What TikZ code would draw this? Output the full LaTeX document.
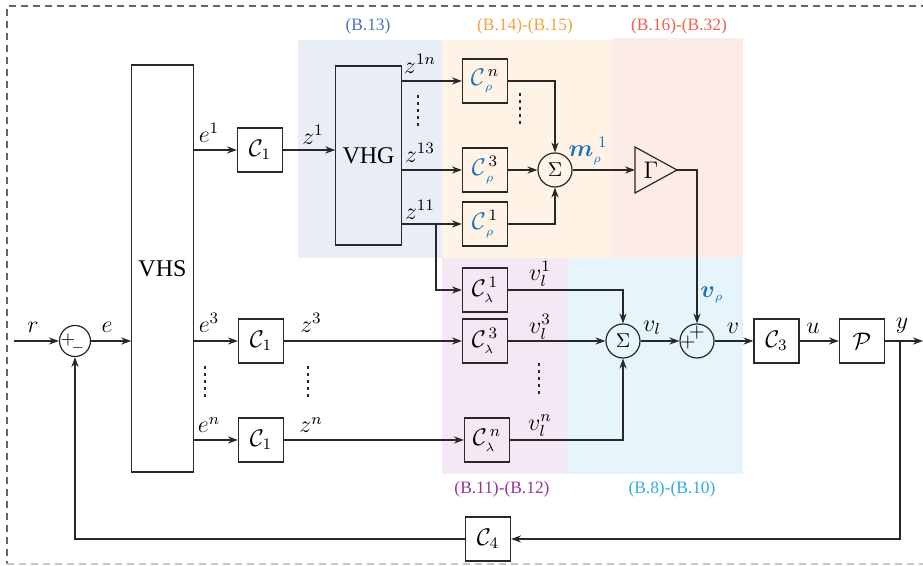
\documentclass[tikz,border=0pt]{standalone}
\usepackage{amsmath,amssymb}
\usepackage{fontspec}
\setmainfont{Liberation Serif}
\usepackage{tikz}
\usetikzlibrary{arrows.meta,calc,positioning}
\definecolor{lncol}{RGB}{40,40,40}
\definecolor{bgvhg}{RGB}{233,237,246}
\definecolor{bgcrho}{RGB}{255,243,229}
\definecolor{bggam}{RGB}{252,235,230}
\definecolor{bgclam}{RGB}{244,232,244}
\definecolor{bgsum}{RGB}{230,244,251}
\definecolor{txvhg}{RGB}{80,110,190}
\definecolor{txcrho}{RGB}{245,160,60}
\definecolor{txgam}{RGB}{240,95,70}
\definecolor{txclam}{RGB}{150,50,150}
\definecolor{txsum}{RGB}{50,170,225}
\definecolor{mblue}{RGB}{25,115,190}
\newcommand{\Crho}[1]{$\textcolor{mblue}{\mathcal{C}}^{\,#1}_{\textcolor{mblue}{\scriptscriptstyle\rho}}$}
\newcommand{\Clam}[1]{$\mathcal{C}^{\,#1}_{\scriptscriptstyle\lambda}$}

\begin{document}
\begin{tikzpicture}[>={Stealth[length=5pt,width=3.6pt]}, x=0.5pt, y=-0.5pt,
  line width=0.6pt, draw=lncol,
  blk/.style={draw=lncol, minimum width=22.5pt, minimum height=22pt, inner sep=0pt, font=\large},
  sumc/.style={draw=lncol, circle, minimum size=17pt, inner sep=0pt},
  lab/.style={font=\large, inner sep=1pt},
  eqlab/.style={font=\fontsize{8.7}{10}\selectfont},
  dotcol/.style={line width=1.3pt, dash pattern=on 1.3pt off 2.2pt}]
  \useasboundingbox (0,0) rectangle (923,566);
  \draw[gray!80!black, dash pattern=on 3.5pt off 2.5pt] (940,6) -- (7,6) -- (7,564);
  \draw[gray!45, dash pattern=on 3.5pt off 2.5pt] (7,564) -- (940,564);

  \fill[bgvhg] (298,40) rectangle (442,258);
  \fill[bgcrho] (442,40) rectangle (612,258);
  \fill[bggam] (612,38) rectangle (743,258);
  \fill[bgclam] (442,258) rectangle (567,474);
  \fill[bgsum] (567,258) rectangle (743,474);
  \node[eqlab, text=txvhg] (eqvhg) at (368,26) {(B.13)};
  \node[eqlab, text=txcrho] (eqcrho) at (525,26) {(B.14)-(B.15)};
  \node[eqlab, text=txgam] (eqgam) at (679,26) {(B.16)-(B.32)};
  \node[eqlab, text=txclam] (eqclam) at (502,489) {(B.11)-(B.12)};
  \node[eqlab, text=txsum] (eqsum) at (672,489) {(B.8)-(B.10)};

  \node[sumc, minimum size=15.5pt] (s1) at (75,341) {};
  \node[font=\small] (s1p) at (68,340) {$+$};
  \node[font=\scriptsize] (s1m) at (78,348) {$-$};
  \node[draw=lncol, minimum width=27.5pt, minimum height=203.5pt, font=\large] (vhs) at (162.5,268.5) {VHS};
  \node[blk] (c1a) at (260,150) {$\mathcal{C}_1$};
  \node[blk] (c1b) at (261,341) {$\mathcal{C}_1$};
  \node[blk] (c1c) at (261,440) {$\mathcal{C}_1$};
  \node[draw=lncol, minimum width=29.5pt, minimum height=89.5pt, font=\large] (vhg) at (368.5,155.5) {VHG};
  \node[blk] (crn) at (485,81) {\Crho{n}};
  \node[blk] (cr3) at (485,170) {\Crho{3}};
  \node[blk] (cr1) at (485,224) {\Crho{1}};
  \node[sumc] (s2r) at (555,170) {$\Sigma$};
  \node[lab] (gam) at (651,170) {$\Gamma$};
  \coordinate (gamin) at (635,170);
  \coordinate (gamout) at (677,170);
  \draw (635,147) -- (gamout) -- (635,193) -- cycle;
  \node[blk] (cl1) at (485,290) {\Clam{1}};
  \node[blk] (cl3) at (485,341) {\Clam{3}};
  \node[blk] (cln) at (487,440) {\Clam{n}};
  \node[sumc] (s2l) at (623,341) {$\Sigma$};
  \node[sumc] (s3) at (697,341) {};
  \node (s3l) at (688,343) {$+$};
  \node (s3t) at (697,333) {$+$};
  \node[blk] (c3) at (776.5,341) {$\mathcal{C}_3$};
  \node[blk] (pl) at (862,341) {$\mathcal{P}$};
  \node[blk] (c4) at (488,539) {$\mathcal{C}_4$};
  \coordinate (rin) at (14,341);
  \coordinate (yout) at (923,341);
  \coordinate (ybr) at (900,341);
  \coordinate (br) at (436,224);

  \draw[->] (rin) -- (s1);
  \draw[->] (s1) -- (s1 -| vhs.west);
  \draw[->] (vhs.east |- c1a) -- (c1a);
  \draw[->] (vhs.east |- c1b) -- (c1b);
  \draw[->] (vhs.east |- c1c) -- (c1c);
  \draw[->] (c1a) -- (c1a -| vhg.west);
  \draw[->] (vhg.east |- crn) -- (crn);
  \draw[->] (vhg.east |- cr3) -- (cr3);
  \draw[->] (vhg.east |- cr1) -- (cr1);
  \draw[->] (crn) -| (s2r);
  \draw[->] (cr3) -- (s2r);
  \draw[->] (cr1) -| (s2r);
  \draw[->] (s2r) -- (gamin);
  \draw[->] (gamout) -| (s3);
  \draw[->] (br) |- (cl1);
  \draw[->] (c1b) -- (cl3);
  \draw[->] (c1c) -- (cln);
  \draw[->] (cl1) -| (s2l);
  \draw[->] (cl3) -- (s2l);
  \draw[->] (cln) -| (s2l);
  \draw[->] (s2l) -- (s3);
  \draw[->] (s3) -- (c3);
  \draw[->] (c3) -- (pl);
  \draw[->] (pl) -- (yout);
  \draw[->] (ybr) |- (c4);
  \draw[->] (c4) -| (s1);

  \draw[dotcol] (205,366) -- (205,398);
  \draw[dotcol] (308,366) -- (308,398);
  \draw[dotcol] (418,95) -- (418,128);
  \draw[dotcol] (520,93) -- (520,125);
  \draw[dotcol] (539,363) -- (539,397);

  \node[lab] (lr) at (33,327) {$r$};
  \node[lab] (le) at (107,327) {$e$};
  \node[lab] (le1) at (209,133) {$e^1$};
  \node[lab] (le3) at (209,323) {$e^3$};
  \node[lab] (len) at (209,425) {$e^n$};
  \node[lab] (lz1) at (313,135) {$z^1$};
  \node[lab] (lz3) at (311,323) {$z^3$};
  \node[lab] (lzn) at (311,425) {$z^n$};
  \node[lab] (lz1n) at (420,64) {$z^{1n}$};
  \node[lab] (lz13) at (420,153) {$z^{13}$};
  \node[lab] (lz11) at (420,210) {$z^{11}$};
  \node[lab, text=mblue] (lm) at (588,151) {$\boldsymbol{m}_{\scriptscriptstyle\rho}^{\;1}$};
  \node[lab, text=mblue] (lvr) at (712,295) {$\boldsymbol{v}_{\scriptscriptstyle\rho}$};
  \node[lab] (lv1) at (540,274) {$v_{l}^{1}$};
  \node[lab] (lv3) at (540,327) {$v_{l}^{3}$};
  \node[lab] (lvn) at (540,426) {$v_{l}^{n}$};
  \node[lab] (lvl) at (652,328) {$v_{l}$};
  \node[lab] (lv) at (733,328) {$v$};
  \node[lab] (lu) at (813,328) {$u$};
  \node[lab] (ly) at (902,326) {$y$};
\end{tikzpicture}
\end{document}
